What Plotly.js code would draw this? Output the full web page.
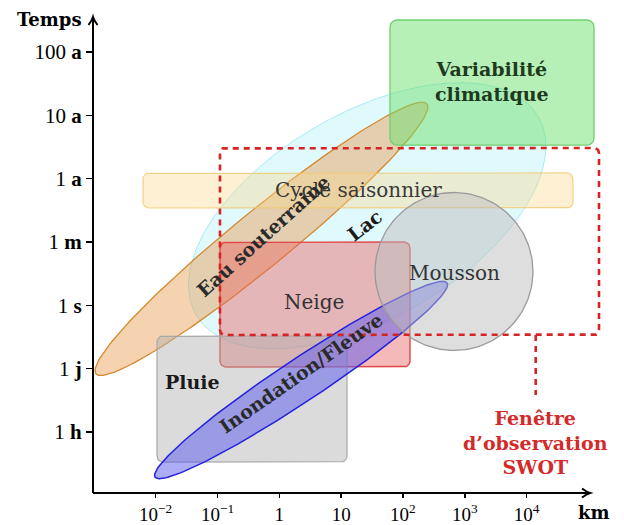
<!DOCTYPE html>
<html>
<head>
<meta charset="utf-8">
<script src="https://cdn.plot.ly/plotly-3.0.1.min.js"></script>
<style>html,body{margin:0;padding:0;background:#fff;}#chart{width:624px;height:525px;}</style>
</head>
<body>
<div id="chart"></div>
<script>
// ---- Data (x: spatial scale in km, log axis; y: time scale index 0=1 h,1=1 j,2=1 s,3=1 m,4=1 a,5=10 a,6=100 a)
const timeTickVals = [0, 1, 2, 3, 4, 5, 6];
const timeTickText = ['1 <b>h</b>', '1 <b>j</b>', '1 <b>s</b>', '1 <b>m</b>', '1 <b>a</b>', '10 <b>a</b>', '100 <b>a</b>'];
const kmTickVals = [0.01, 0.1, 1, 10, 100, 1000, 10000];
const kmTickText = ['10<sup>−2</sup>', '10<sup>−1</sup>', '1', '10', '10<sup>2</sup>', '10<sup>3</sup>', '10<sup>4</sup>'];

// Rectangular domains
const rectNames = ['Variabilité climatique', 'Cycle saisonnier', 'Neige', 'Pluie'];
const rectKmMin = [61.8, 0.00624, 0.1096, 0.0105];
const rectKmMax = [123300, 56360, 130, 12.45];
const rectTMin = [4.53, 3.537, 1.026, -0.474];
const rectTMax = [6.505, 4.09, 3.0, 1.516];

// Elliptic domains (two tips of the major axis + half width in time units)
const ellNames = ['Lac', 'Eau souterraine', 'Inondation/Fleuve', 'Mousson'];
const ellKm1 = [0.045, 0.00108, 0.00975, 35.3];
const ellT1 = [1.85, 0.92, -0.711, 2.5345];
const ellKm2 = [15500, 245, 518, 12700];
const ellT2 = [4.98, 5.179, 2.353, 2.5345];
const ellHalfWidth = [1.62, 0.442, 0.335, 1.247];

// SWOT observation window
const swotKmMin = 0.1096, swotKmMax = 148600, swotTMin = 1.532, swotTMax = 4.484;
const swotLinkKm = 14060, swotLinkTEnd = 0.584;

// Labels
const labelText = ['Variabilité<br>climatique', 'Cycle saisonnier', 'Neige', 'Mousson', 'Pluie', 'Lac', 'Eau souterraine', 'Inondation/Fleuve', 'Fenêtre<br>d’observation<br>SWOT'];
const labelKm = [2761, 19.45, 3.64, 695, 0.0401, 24.3, 0.545, 2.24, 14060];
const labelT = [5.527, 3.821, 2.053, 2.511, 0.79, 3.269, 3.095, 0.932, -0.158];

// ---- Layout geometry
const W = 624, H = 525, ML = 93, MR = 14, MT = 10, MB = 32;
const X0 = -3.0144, X1 = 5.350, Y0 = -0.963, Y1 = 6.663;
const sx = (W - ML - MR) / (X1 - X0);
const sy = (H - MT - MB) / (Y1 - Y0);

function ellipse(k1, t1, k2, t2, w) {
  const ax = Math.log10(k1) * sx, ay = t1 * sy, bx = Math.log10(k2) * sx, by = t2 * sy;
  const cx = (ax + bx) / 2, cy = (ay + by) / 2;
  const a = Math.hypot(bx - ax, by - ay) / 2, b = w * sy, th = Math.atan2(by - ay, bx - ax);
  const xs = [], ys = [];
  for (let i = 0; i <= 180; i++) {
    const p = 2 * Math.PI * i / 180, u = a * Math.cos(p), v = b * Math.sin(p);
    xs.push(Math.pow(10, (cx + u * Math.cos(th) - v * Math.sin(th)) / sx));
    ys.push((cy + u * Math.sin(th) + v * Math.cos(th)) / sy);
  }
  return {xs, ys};
}
function rrect(k0, k1, t0, t1, r) {
  const x0 = Math.log10(k0) * sx, x1 = Math.log10(k1) * sx, y0 = t0 * sy, y1 = t1 * sy;
  const cs = [[x1 - r, y1 - r, 0], [x0 + r, y1 - r, 90], [x0 + r, y0 + r, 180], [x1 - r, y0 + r, 270]];
  const xs = [], ys = [];
  cs.forEach(c => {
    for (let i = 0; i <= 8; i++) {
      const ang = (c[2] + 90 * i / 8) * Math.PI / 180;
      xs.push(Math.pow(10, (c[0] + r * Math.cos(ang)) / sx));
      ys.push((c[1] + r * Math.sin(ang)) / sy);
    }
  });
  xs.push(xs[0]); ys.push(ys[0]);
  return {xs, ys};
}
function areaTrace(g, fill, line, lw, dash) {
  return {x: g.xs, y: g.ys, type: 'scatter', mode: 'lines', fill: fill ? 'toself' : 'none',
    fillcolor: fill || 'rgba(0,0,0,0)', line: {color: line, width: lw, dash: dash || 'solid'},
    hoverinfo: 'skip', showlegend: false};
}

const traces = [];
traces.push(areaTrace(ellipse(ellKm1[0], ellT1[0], ellKm2[0], ellT2[0], ellHalfWidth[0]), 'rgba(160,238,248,0.33)', 'rgba(120,222,238,0.6)', 1));
traces.push(areaTrace(ellipse(ellKm1[1], ellT1[1], ellKm2[1], ellT2[1], ellHalfWidth[1]), 'rgba(230,150,70,0.42)', '#d48a2e', 1.3));
traces.push(areaTrace(rrect(rectKmMin[0], rectKmMax[0], rectTMin[0], rectTMax[0], 7), 'rgba(110,225,110,0.5)', '#6fd06f', 1.3));
traces.push(areaTrace(rrect(rectKmMin[1], rectKmMax[1], rectTMin[1], rectTMax[1], 6), 'rgba(250,215,140,0.38)', 'rgba(240,200,110,0.8)', 1.2));
traces.push(areaTrace(rrect(rectKmMin[2], rectKmMax[2], rectTMin[2], rectTMax[2], 6), 'rgba(235,100,100,0.45)', '#e04848', 1.4));
traces.push(areaTrace(rrect(rectKmMin[3], rectKmMax[3], rectTMin[3], rectTMax[3], 6), 'rgba(175,175,175,0.45)', '#a8a8a8', 1.2));
traces.push(areaTrace(ellipse(ellKm1[2], ellT1[2], ellKm2[2], ellT2[2], ellHalfWidth[2]), 'rgba(90,90,240,0.5)', '#2222dd', 1.5));
traces.push(areaTrace(ellipse(ellKm1[3], ellT1[3], ellKm2[3], ellT2[3], ellHalfWidth[3]), 'rgba(190,190,190,0.5)', '#9a9a9a', 1.3));
traces.push(areaTrace(rrect(swotKmMin, swotKmMax, swotTMin, swotTMax, 5), null, '#d62424', 2.6, '6px,5px'));
traces.push({x: [swotLinkKm, swotLinkKm], y: [swotTMin, swotLinkTEnd], type: 'scatter', mode: 'lines',
  line: {color: '#d62424', width: 2.6, dash: '6px,5px'}, hoverinfo: 'skip', showlegend: false});

const TF = 'DejaVu Serif, serif';
const labelStyle = [
  {b: true, size: 19, color: '#1e3a1e', angle: 0},
  {b: false, size: 20, color: '#3a3a3a', angle: 0},
  {b: false, size: 20, color: '#333', angle: 0},
  {b: false, size: 20, color: '#333', angle: 0},
  {b: true, size: 19, color: '#1a1a1a', angle: 0},
  {b: true, size: 19, color: '#1a1a1a', angle: -38},
  {b: true, size: 19, color: '#2a2a2a', angle: -42},
  {b: true, size: 19, color: '#2a2a2a', angle: -35},
  {b: true, size: 19, color: '#d42a2a', angle: 0}
];
const annotations = labelText.map((t, i) => ({
  x: Math.log10(labelKm[i]), y: labelT[i], xref: 'x', yref: 'y', showarrow: false,
  text: labelStyle[i].b ? '<b>' + t.split('<br>').join('</b><br><b>') + '</b>' : t,
  textangle: labelStyle[i].angle, font: {family: TF, size: labelStyle[i].size, color: labelStyle[i].color},
  xanchor: 'center', yanchor: 'middle'
}));
const pw = W - ML - MR, ph = H - MT - MB;
const px2paperX = p => (p - ML) / pw, px2paperY = p => (H - MB - p) / ph;
annotations.push({x: px2paperX(49), y: px2paperY(19), xref: 'paper', yref: 'paper', showarrow: false,
  text: '<b>Temps</b>', font: {family: TF, size: 18, color: '#000'}, xanchor: 'center', yanchor: 'middle'});
annotations.push({x: px2paperX(594), y: px2paperY(512), xref: 'paper', yref: 'paper', showarrow: false,
  text: '<b>km</b>', font: {family: TF, size: 18, color: '#000'}, xanchor: 'center', yanchor: 'middle'});

// Axis lines with open arrowheads (paper coordinates)
const f = n => n.toFixed(5);
const tipX = px2paperX(590), tipY = px2paperY(17);
const hx = 8 / pw, hy = 4.5 / ph, vx = 4.5 / pw, vy = 8 / ph;
const shapes = [
  {type: 'line', xref: 'paper', yref: 'paper', x0: 0, y0: 0, x1: tipX, y1: 0, line: {color: '#000', width: 2}},
  {type: 'line', xref: 'paper', yref: 'paper', x0: 0, y0: 0, x1: 0, y1: tipY, line: {color: '#000', width: 2}},
  {type: 'path', xref: 'paper', yref: 'paper', line: {color: '#000', width: 2},
    path: 'M ' + f(tipX - hx) + ',' + f(hy) + ' Q ' + f(tipX - hx * 0.4) + ',' + f(hy * 0.2) + ' ' + f(tipX) + ',0 Q ' + f(tipX - hx * 0.4) + ',' + f(-hy * 0.2) + ' ' + f(tipX - hx) + ',' + f(-hy)},
  {type: 'path', xref: 'paper', yref: 'paper', line: {color: '#000', width: 2},
    path: 'M ' + f(-vx) + ',' + f(tipY - vy) + ' Q ' + f(-vx * 0.2) + ',' + f(tipY - vy * 0.4) + ' 0,' + f(tipY) + ' Q ' + f(vx * 0.2) + ',' + f(tipY - vy * 0.4) + ' ' + f(vx) + ',' + f(tipY - vy)}
];

const layout = {
  width: W, height: H, margin: {l: ML, r: MR, t: MT, b: MB, pad: 0},
  paper_bgcolor: '#fff', plot_bgcolor: '#fff', showlegend: false,
  xaxis: {type: 'log', range: [X0, X1], showgrid: false, zeroline: false, showline: false,
    tickmode: 'array', tickvals: kmTickVals, ticktext: kmTickText, ticks: 'outside', ticklen: 4, tickwidth: 1.5, tickcolor: '#000',
    tickfont: {family: 'Liberation Serif, serif', size: 19, color: '#000'}, fixedrange: true},
  yaxis: {range: [Y0, Y1], showgrid: false, zeroline: false, showline: false,
    tickmode: 'array', tickvals: timeTickVals, ticktext: timeTickText, ticks: 'outside', ticklen: 6, tickwidth: 1.5, tickcolor: '#000',
    tickfont: {family: 'Liberation Serif, serif', size: 21, color: '#000'}, fixedrange: true},
  shapes: shapes,
  annotations: annotations
};
Plotly.newPlot('chart', traces, layout, {displayModeBar: false, staticPlot: true});
</script>
</body>
</html>
